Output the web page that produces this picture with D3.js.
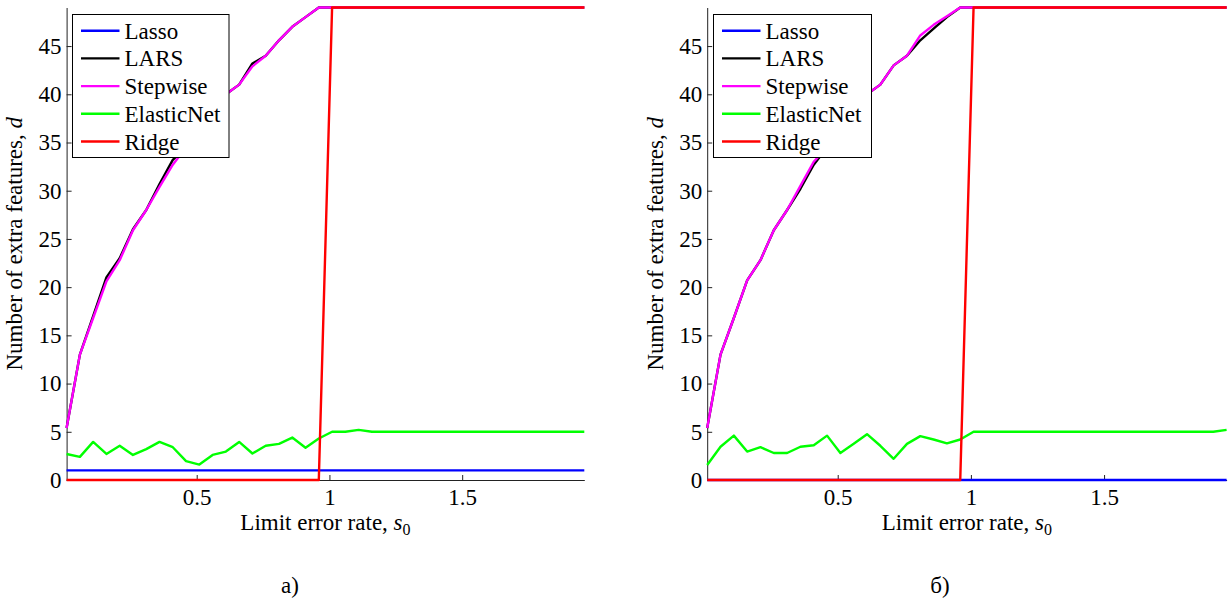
<!DOCTYPE html>
<html><head><meta charset="utf-8">
<script src="https://cdn.jsdelivr.net/npm/d3@7/dist/d3.min.js"></script>
<style>
body{margin:0;background:#fff;}
svg text{font-family:"Liberation Serif","Times New Roman",Times,"Nimbus Roman","Nimbus Roman No9 L","Noto Serif","DejaVu Serif",FreeSerif,serif;fill:#000;}
</style></head>
<body><svg id="c" width="1228" height="603"></svg>
<script>
// x values: limit error rate s0 (0.01 .. 1.96, step 0.05)
const s0 = [0.01,0.06,0.11,0.16,0.21,0.26,0.31,0.36,0.41,0.46,0.51,0.56,0.61,0.66,0.71,0.76,0.81,0.86,0.91,0.96,
            1.01,1.06,1.11,1.16,1.21,1.26,1.31,1.36,1.41,1.46,1.51,1.56,1.61,1.66,1.71,1.76,1.81,1.86,1.91,1.96];
const seriesNames = ["Lasso","LARS","Stepwise","ElasticNet","Ridge"];
const seriesColors = ["#0000ff","#000000","#ff00ff","#00ff00","#ff0000"];
const xTicks = [0.5,1,1.5];
const xTickLabels = ["0.5","1","1.5"];
const yTicks = [0,5,10,15,20,25,30,35,40,45];
const panelCaptions = ["а)","б)"];

// Panel a)
const lassoA = [1,1,1,1,1,1,1,1,1,1,1,1,1,1,1,1,1,1,1,1,1,1,1,1,1,1,1,1,1,1,1,1,1,1,1,1,1,1,1,1];
const larsA = [5.4,13,17,21,23,26,28,30.7,33.2,34.5,36.5,38.5,40,41,43.2,44,45.6,47,48,49,
               49,49,49,49,49,49,49,49,49,49,49,49,49,49,49,49,49,49,49,49];
const stepA = [5.4,13,16.8,20.6,22.8,25.9,28,30.4,32.7,34.5,36.5,38.5,40,41,42.9,44,45.6,47,48,49,
               49,49,49,49,49,49,49,49,49,49,49,49,49,49,49,49,49,49,49,49];
const enetA = [2.7,2.4,3.95,2.7,3.55,2.6,3.2,3.95,3.4,1.95,1.6,2.6,2.95,3.95,2.75,3.55,3.75,4.4,3.35,4.3,
               5,5,5.2,5,5,5,5,5,5,5,5,5,5,5,5,5,5,5,5,5];
const ridgeA = [0,0,0,0,0,0,0,0,0,0,0,0,0,0,0,0,0,0,0,0,
                49,49,49,49,49,49,49,49,49,49,49,49,49,49,49,49,49,49,49,49];
// Panel б)
const lassoB = [0,0,0,0,0,0,0,0,0,0,0,0,0,0,0,0,0,0,0,0,0,0,0,0,0,0,0,0,0,0,0,0,0,0,0,0,0,0,0,0];
const larsB = [5.4,13,16.8,20.7,22.8,25.9,28,30.2,32.7,34.5,36.5,38.5,40,41,43,44,45.6,46.8,48,49,
               49,49,49,49,49,49,49,49,49,49,49,49,49,49,49,49,49,49,49,49];
const stepB = [5.4,13,16.8,20.7,22.8,25.9,28,30.5,33,34.5,36.5,38.5,40,41,43,44,46.1,47.2,48.1,49,
               49,49,49,49,49,49,49,49,49,49,49,49,49,49,49,49,49,49,49,49];
const enetB = [1.55,3.45,4.6,2.95,3.4,2.8,2.8,3.45,3.6,4.6,2.8,3.75,4.75,3.55,2.2,3.75,4.55,4.2,3.8,4.2,
               5,5,5,5,5,5,5,5,5,5,5,5,5,5,5,5,5,5,5.0,5.2];
const ridgeB = [0,0,0,0,0,0,0,0,0,0,0,0,0,0,0,0,0,0,0,0,
                49,49,49,49,49,49,49,49,49,49,49,49,49,49,49,49,49,49,49,49];

const panels = [
  {x0:66.6, x1:584.3, legendX:72.5, legendW:156.5, data:[lassoA,larsA,stepA,enetA,ridgeA], caption:panelCaptions[0], capX:290, ylabX:22},
  {x0:707.2, x1:1226.6, legendX:713.5, legendW:158, data:[lassoB,larsB,stepB,enetB,ridgeB], caption:panelCaptions[1], capX:940, ylabX:663}
];

const svg = d3.select("#c");
const yTop = 7.5, yBot = 480;
const FS = 23;
const FF = '"Liberation Serif","Times New Roman",Times,"Nimbus Roman","Nimbus Roman No9 L","Noto Serif","DejaVu Serif",FreeSerif,serif';

panels.forEach(p => {
  const x = d3.scaleLinear().domain([0.01,1.96]).range([p.x0,p.x1]);
  const y = d3.scaleLinear().domain([0,49]).range([yBot,yTop]);
  const g = svg.append("g");

  // axes
  const xa = g.append("g").attr("transform",`translate(0,${yBot})`)
    .call(d3.axisBottom(x).tickValues(xTicks).tickFormat((d,i)=>xTickLabels[i]).tickSizeInner(-5).tickSizeOuter(0).tickPadding(9));
  const ya = g.append("g").attr("transform",`translate(${p.x0},0)`)
    .call(d3.axisLeft(y).tickValues(yTicks).tickSizeInner(-5).tickSizeOuter(0).tickPadding(5));
  [xa,ya].forEach(a=>{
    a.attr("font-family",null).attr("font-size",null);
    a.select(".domain").attr("stroke","#222").attr("stroke-width",1);
    a.selectAll(".tick line").attr("stroke","#222");
    a.selectAll("text").style("font-family",FF).style("font-size",FS+"px").attr("fill","#000");
  });
  xa.selectAll("text").attr("dy","0.71em");

  // lines
  const line = d3.line().x((d,i)=>x(s0[i])).y(d=>y(d));
  p.data.forEach((vals,k)=>{
    g.append("path").attr("d",line(vals)).attr("fill","none")
     .attr("stroke",seriesColors[k]).attr("stroke-width",2.4).attr("stroke-linejoin","round");
  });

  // x label
  const xl = g.append("text").attr("x",(p.x0+p.x1)/2).attr("y",530).attr("text-anchor","middle").style("font-size",FS+"px");
  xl.append("tspan").text("Limit error rate, ");
  xl.append("tspan").attr("font-style","italic").text("s");
  xl.append("tspan").attr("dy",5).style("font-size","16px").text("0");

  // y label
  const yl = g.append("text").attr("transform",`translate(${p.ylabX},${(yTop+yBot)/2}) rotate(-90)`)
    .attr("text-anchor","middle").style("font-size",FS+"px");
  yl.append("tspan").text("Number of extra features, ");
  yl.append("tspan").attr("font-style","italic").text("d");

  // legend
  const lg = g.append("g");
  lg.append("rect").attr("x",p.legendX).attr("y",14.5).attr("width",p.legendW).attr("height",143)
    .attr("fill","#fff").attr("stroke","#000").attr("stroke-width",1);
  seriesNames.forEach((nm,k)=>{
    const cy = 30.7 + k*27.7;
    lg.append("line").attr("x1",p.legendX+8.5).attr("x2",p.legendX+47).attr("y1",cy).attr("y2",cy)
      .attr("stroke",seriesColors[k]).attr("stroke-width",2.4);
    lg.append("text").attr("x",p.legendX+52).attr("y",cy).attr("dy","0.35em").style("font-size",FS+"px").text(nm);
  });

  // caption
  g.append("text").attr("x",p.capX).attr("y",593).attr("text-anchor","middle").style("font-size",FS+"px").text(p.caption);
});
</script></body></html>
